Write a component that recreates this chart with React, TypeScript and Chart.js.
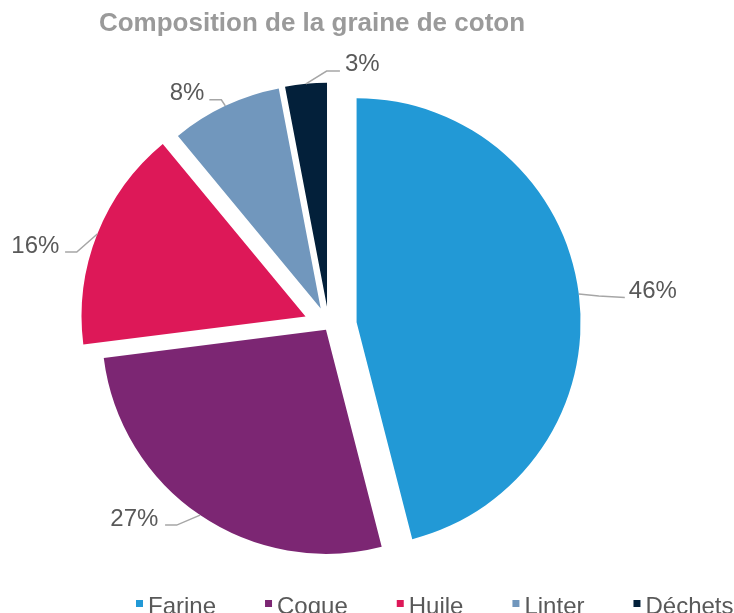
import React, { useEffect, useRef } from 'react';
import { Chart, registerables } from 'chart.js';

Chart.register(...registerables);

// ---- data ----
const categories = ['Farine', 'Coque', 'Huile', 'Linter', 'Déchets'];
const shares = [46, 27, 16, 8, 3];
const chartTitle = 'Composition de la graine de coton';

// ---- styles ----
const sliceColors = ['#2299D6', '#7C2673', '#DD1858', '#7197BD', '#03203A'];
const explode = [28, 5, 25, 19, 19];
const leaderStyles = [
  { elbow: [20, 2], end: [46, 3.5], text: [4, 0], align: 'left' },
  { elbow: [-23.4, 10], end: [-35, 10], text: [-6.7, 1], align: 'right' },
  { elbow: [-20.5, 18], end: [-32.2, 18], text: [-5.7, 1.2], align: 'right' },
  { elbow: [-4, -6], end: [-16, -6], text: [-5, 0], align: 'right' },
  { elbow: [20.7, -12.7], end: [34, -12.7], text: [5, 0], align: 'left' },
];
const FONT = '"Liberation Sans", Arial, Helvetica, sans-serif';

const explodePlugin = {
  id: 'explodeSlices',
  afterDatasetsUpdate(chart: any) {
    const meta = chart.getDatasetMeta(0);
    meta.data.forEach((arc: any, i: number) => {
      const mid = (arc.startAngle + arc.endAngle) / 2;
      const t = explode[i] || 0;
      arc.x += Math.cos(mid) * t;
      arc.y += Math.sin(mid) * t;
    });
  },
};

const labelPlugin = {
  id: 'pieLabels',
  afterDatasetsDraw(chart: any) {
    const ctx = chart.ctx;
    const meta = chart.getDatasetMeta(0);
    const values = chart.data.datasets[0].data as number[];
    const total = values.reduce((a, b) => a + b, 0);
    ctx.save();
    meta.data.forEach((arc: any, i: number) => {
      const st = leaderStyles[i];
      const mid = (arc.startAngle + arc.endAngle) / 2;
      const r = arc.outerRadius;
      const x0 = arc.x + Math.cos(mid) * r;
      const y0 = arc.y + Math.sin(mid) * r;
      const ex = x0 + st.end[0];
      const ey = y0 + st.end[1];
      ctx.beginPath();
      ctx.moveTo(x0, y0);
      ctx.lineTo(x0 + st.elbow[0], y0 + st.elbow[1]);
      ctx.lineTo(ex, ey);
      ctx.strokeStyle = '#A6A6A6';
      ctx.lineWidth = 1.5;
      ctx.stroke();
      ctx.font = `24px ${FONT}`;
      ctx.fillStyle = '#595959';
      ctx.textAlign = st.align;
      ctx.textBaseline = 'alphabetic';
      const pct = Math.round((values[i] / total) * 100) + '%';
      ctx.fillText(pct, ex + st.text[0], ey + st.text[1]);
    });
    ctx.restore();
  },
  afterDraw(chart: any) {
    const ctx = chart.ctx;
    ctx.save();
    // title
    ctx.font = `bold 26px ${FONT}`;
    ctx.fillStyle = '#9A9A9A';
    ctx.textAlign = 'center';
    ctx.textBaseline = 'alphabetic';
    ctx.fillText(chartTitle, 312, 31);
    // legend
    ctx.font = `24px ${FONT}`;
    ctx.textAlign = 'left';
    let x = 136;
    const labels = chart.data.labels as string[];
    const colors = chart.data.datasets[0].backgroundColor as string[];
    labels.forEach((lab, i) => {
      ctx.fillStyle = colors[i];
      ctx.fillRect(x, 600, 7, 7);
      ctx.fillStyle = '#595959';
      ctx.fillText(lab, x + 12, 614);
      x += 12 + ctx.measureText(lab).width + 49;
    });
    ctx.restore();
  },
};

export default function App() {
  const ref = useRef<HTMLCanvasElement | null>(null);
  useEffect(() => {
    if (!ref.current) return;
    const chart = new Chart(ref.current, {
      type: 'pie',
      data: {
        labels: categories,
        datasets: [
          {
            data: shares,
            backgroundColor: sliceColors,
            borderWidth: 0,
            hoverOffset: 0,
          },
        ],
      },
      options: {
        responsive: false,
        animation: false,
        devicePixelRatio: 1,
        radius: 224,
        layout: { padding: { left: 100, right: 176.4, top: 100, bottom: 61.6 } },
        plugins: {
          legend: { display: false },
          title: { display: false },
          tooltip: { enabled: false },
        },
      } as any,
      plugins: [explodePlugin, labelPlugin],
    });
    return () => chart.destroy();
  }, []);
  return (
    <div style={{ position: 'fixed', left: 0, top: 0, width: 734, height: 613, background: '#fff' }}>
      <canvas ref={ref} width={734} height={613} style={{ display: 'block' }} />
    </div>
  );
}
